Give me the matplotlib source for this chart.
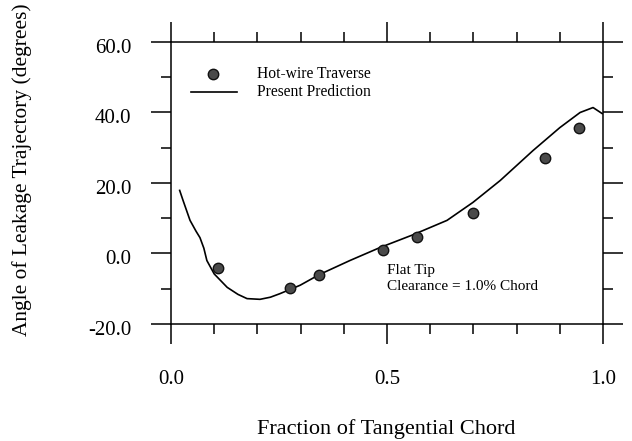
import matplotlib
matplotlib.use("Agg")
import matplotlib.pyplot as plt
from matplotlib.ticker import MultipleLocator, FormatStrFormatter
import matplotlib.transforms as mtransforms

plt.rcParams['font.family'] = ['Liberation Serif', 'DejaVu Serif']

# hot-wire traverse measurements
meas_x = [0.109, 0.275, 0.343, 0.491, 0.569, 0.699, 0.866, 0.944]
meas_y = [-4.0, -9.8, -6.2, 1.1, 4.8, 11.6, 27.0, 35.7]

# present prediction
pred_x = [0.020, 0.028, 0.044, 0.058, 0.067, 0.076, 0.083, 0.100, 0.130, 0.155,
          0.176, 0.206, 0.230, 0.252, 0.299, 0.343, 0.414, 0.484, 0.560, 0.639,
          0.699, 0.762, 0.838, 0.900, 0.947, 0.977, 0.998]
pred_y = [17.9, 15.0, 9.4, 6.3, 4.5, 1.5, -2.0, -5.8, -9.6, -11.6,
          -12.8, -13.0, -12.4, -11.4, -9.0, -6.0, -2.0, 1.7, 5.3, 9.4,
          14.5, 20.7, 29.2, 35.7, 40.0, 41.4, 39.7]

fig = plt.figure(figsize=(6.32, 4.41), dpi=100)
ax = fig.add_axes([0.2706, 0.2653, 0.9541 - 0.2706, 0.9048 - 0.2653])

ax.plot(pred_x, pred_y, color='black', lw=1.2, label='Present Prediction')
ax.plot(meas_x, meas_y, 'o', ms=7.5, mfc='#4a4a4a', mec='#111111', mew=1.0,
        label='Hot-wire Traverse')

ax.set_xlim(0, 1)
ax.set_ylim(-20, 60)
ax.xaxis.set_major_locator(MultipleLocator(0.5))
ax.xaxis.set_minor_locator(MultipleLocator(0.1))
ax.yaxis.set_major_locator(MultipleLocator(20))
ax.yaxis.set_minor_locator(MultipleLocator(10))
ax.xaxis.set_major_formatter(FormatStrFormatter('%.1f'))
ax.yaxis.set_major_formatter(FormatStrFormatter('%.1f'))

ax.tick_params(which='both', direction='out', top=True, right=True,
               width=1.1, color='black')
ax.tick_params(which='major', length=14.4, labelsize=15)
ax.tick_params(which='minor', length=7.2)
ax.tick_params(axis='x', which='major', pad=19)
ax.tick_params(axis='y', which='major', pad=14)
for s in ax.spines.values():
    s.set_linewidth(1.1)

# y tick labels sit a little below their ticks
shift = mtransforms.ScaledTranslation(0, -4 / 100, fig.dpi_scale_trans)
for lbl in ax.get_yticklabels():
    lbl.set_transform(lbl.get_transform() + shift)

# legend drawn by hand, marker above line
ax.plot([0.098], [51.0], 'o', ms=7.5, mfc='#4a4a4a', mec='#111111', mew=1.0)
ax.plot([0.047, 0.153], [45.8, 45.8], color='black', lw=1.2)
ax.text(0.199, 51.0, 'Hot-wire Traverse', fontsize=11.2, va='center')
ax.text(0.199, 45.8, 'Present Prediction', fontsize=11.2, va='center')

ax.text(0.500, -4.8, 'Flat Tip', fontsize=11, va='center')
ax.text(0.500, -9.4, 'Clearance = 1.0% Chord', fontsize=11, va='center')

fig.text(22 / 632, 1 - 170 / 441, 'Angle of Leakage Trajectory (degrees)',
         rotation=90, ha='center', va='center', fontsize=15.4)
fig.text(386 / 632, 1 - 429 / 441, 'Fraction of Tangential Chord',
         ha='center', va='center', fontsize=16)

fig.savefig('out.png', dpi=100)
